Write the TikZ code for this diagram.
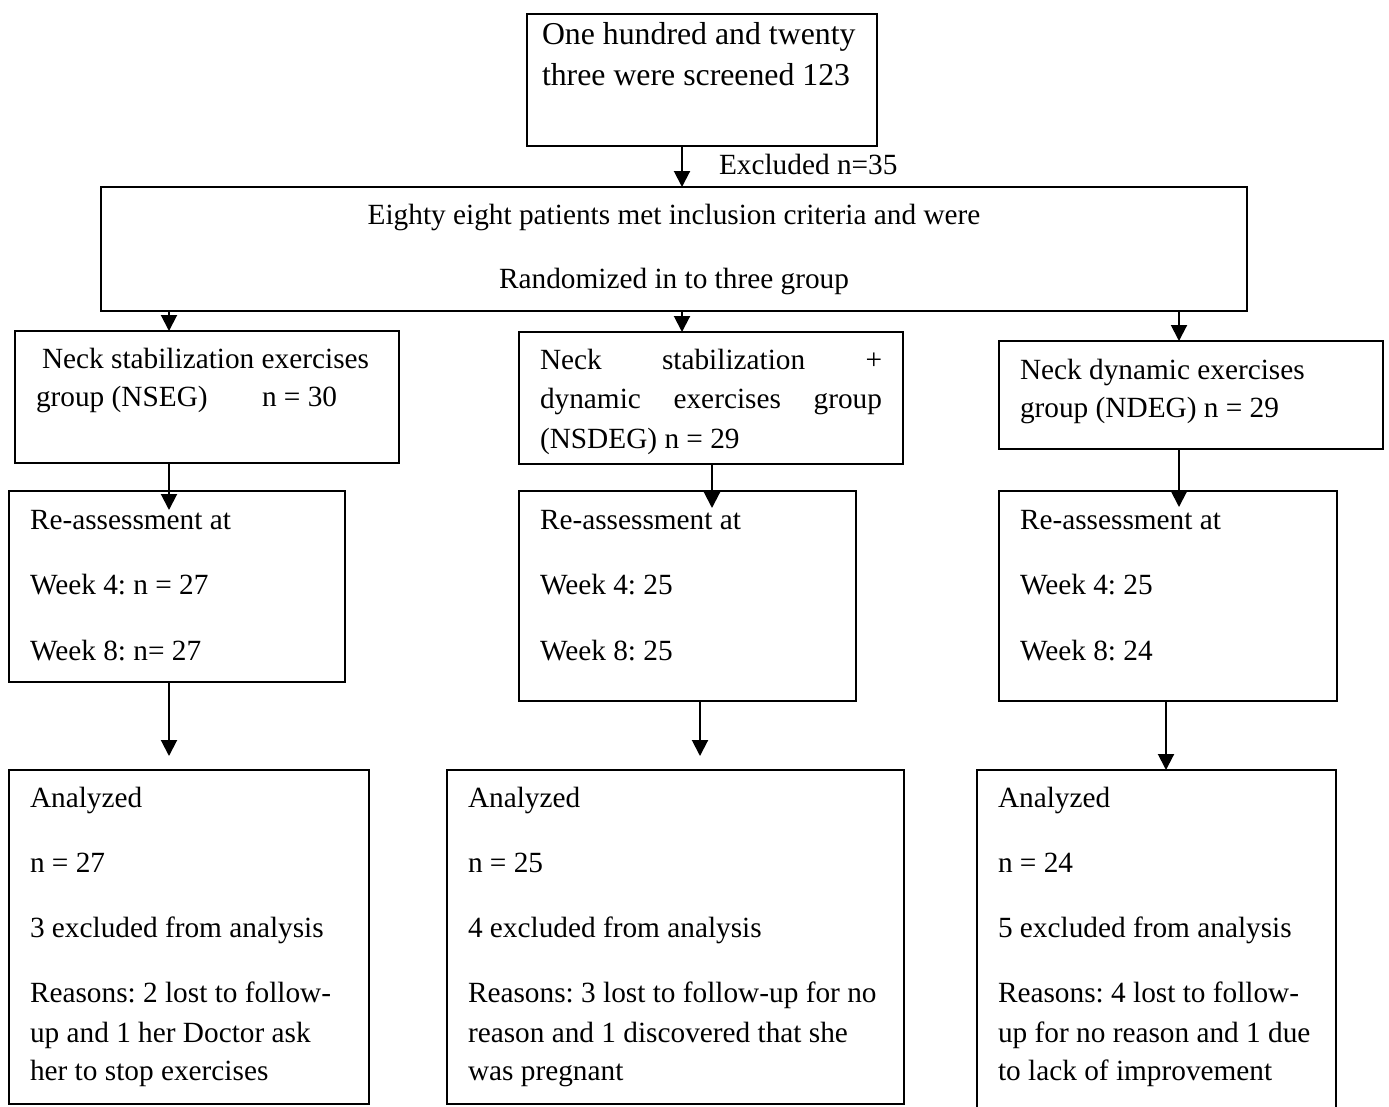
\documentclass[tikz,border=0pt]{standalone}
\usepackage{fontspec}
\setmainfont{Liberation Serif}
\usetikzlibrary{arrows.meta}
\frenchspacing
\begin{document}
\begin{tikzpicture}[x=1pt,y=-1pt,
  box/.style={draw=black,line width=1.8pt,anchor=north west,inner sep=0pt,outer sep=0pt},
  txt/.style={anchor=base west,inner sep=0pt,outer sep=0pt,font=\fontsize{29.3}{35}\selectfont\frenchspacing},
  bigtxt/.style={txt,font=\fontsize{31.8}{38}\selectfont\frenchspacing},
  ctxt/.style={anchor=base,inner sep=0pt,outer sep=0pt,font=\fontsize{29.3}{35}\selectfont\frenchspacing},
  arr/.style={line width=2pt,-{Triangle[length=16pt,width=16pt]}}]
\useasboundingbox[fill=white] (0,0) rectangle (1389,1106);
% boxes
\node[box,minimum width=350pt,minimum height=132pt] (top) at (527,14) {};
\node[box,minimum width=1146pt,minimum height=124pt] (big) at (101,187) {};
\node[box,minimum width=384pt,minimum height=132pt] (nseg) at (15,331) {};
\node[box,minimum width=384pt,minimum height=132pt] (nsdeg) at (519,332) {};
\node[box,minimum width=384pt,minimum height=108pt] (ndeg) at (999,341) {};
\node[box,minimum width=336pt,minimum height=191pt] (reA) at (9,491) {};
\node[box,minimum width=337pt,minimum height=210pt] (reB) at (519,491) {};
\node[box,minimum width=338pt,minimum height=210pt] (reC) at (999,491) {};
\node[box,minimum width=360pt,minimum height=334pt] (anA) at (9,770) {};
\node[box,minimum width=457pt,minimum height=334pt] (anB) at (447,770) {};
\node[box,draw=none,minimum width=359pt,minimum height=340pt] (anC) at (977,770) {};
\draw[line width=1.8pt] (anC.south west) -- (anC.north west) -- (anC.north east) -- (anC.south east);
% texts
\node[bigtxt] (t1) at (542,44) {One hundred and twenty};
\node[bigtxt] (t2) at (542,85) {three were screened 123};
\node[txt] (ex) at (719,174) {Excluded n=35};
\node[ctxt] (b1) at (674,224) {Eighty eight patients met inclusion criteria and were};
\node[ctxt] (b2) at (674,288) {Randomized in to three group};
\node[txt] (g1a) at (42,368) {Neck stabilization exercises};
\node[txt] (g1b) at (36,406) {group (NSEG)};
\node[txt] (g1c) at (262,406) {n = 30};
\node[txt] (g2a) at (540,369) {\makebox[342pt][s]{Neck\hfill stabilization\hfill +}};
\node[txt] (g2b) at (540,408) {\makebox[342pt][s]{dynamic\hfill exercises\hfill group}};
\node[txt] (g2c) at (540,448) {(NSDEG) n = 29};
\node[txt] (g3a) at (1020,379) {Neck dynamic exercises};
\node[txt] (g3b) at (1020,417) {group (NDEG) n = 29};
\node[txt] (rA1) at (30,529) {Re-assessment at};
\node[txt] (rA2) at (30,594) {Week 4: n = 27};
\node[txt] (rA3) at (30,660) {Week 8: n= 27};
\node[txt] (rB1) at (540,529) {Re-assessment at};
\node[txt] (rB2) at (540,594) {Week 4: 25};
\node[txt] (rB3) at (540,660) {Week 8: 25};
\node[txt] (rC1) at (1020,529) {Re-assessment at};
\node[txt] (rC2) at (1020,594) {Week 4: 25};
\node[txt] (rC3) at (1020,660) {Week 8: 24};
\node[txt] (aA1) at (30,807) {Analyzed};
\node[txt] (aA2) at (30,872) {n = 27};
\node[txt] (aA3) at (30,937) {3 excluded from analysis};
\node[txt] (aA4) at (30,1002) {Reasons: 2 lost to follow-};
\node[txt] (aA5) at (30,1042) {up and 1 her Doctor ask};
\node[txt] (aA6) at (30,1080) {her to stop exercises};
\node[txt] (aB1) at (468,807) {Analyzed};
\node[txt] (aB2) at (468,872) {n = 25};
\node[txt] (aB3) at (468,937) {4 excluded from analysis};
\node[txt] (aB4) at (468,1002) {Reasons: 3 lost to follow-up for no};
\node[txt] (aB5) at (468,1042) {reason and 1 discovered that she};
\node[txt] (aB6) at (468,1080) {was pregnant};
\node[txt] (aC1) at (998,807) {Analyzed};
\node[txt] (aC2) at (998,872) {n = 24};
\node[txt] (aC3) at (998,937) {5 excluded from analysis};
\node[txt] (aC4) at (998,1002) {Reasons: 4 lost to follow-};
\node[txt] (aC5) at (998,1042) {up for no reason and 1 due};
\node[txt] (aC6) at (998,1080) {to lack of improvement};
% arrows
\coordinate (xA) at (169,0);
\coordinate (xT) at (682,0);
\coordinate (xN) at (712,0);
\coordinate (xR) at (1179,0);
\coordinate (xM) at (700,0);
\coordinate (xS) at (1166,0);
\draw[arr] (top.south -| xT) -- (big.north -| xT);
\draw[arr] (big.south -| xA) -- (nseg.north -| xA);
\draw[arr] (big.south -| xT) -- (nsdeg.north -| xT);
\draw[arr] (big.south -| xR) -- (ndeg.north -| xR);
\draw[arr] (nseg.south -| xA) -- ([yshift=-19pt]reA.north -| xA);
\draw[arr] (nsdeg.south -| xN) -- ([yshift=-17pt]reB.north -| xN);
\draw[arr] (ndeg.south -| xR) -- ([yshift=-16pt]reC.north -| xR);
\draw[arr] (reA.south -| xA) -- ([yshift=14pt]anA.north -| xA);
\draw[arr] (reB.south -| xM) -- ([yshift=14pt]anB.north -| xM);
\draw[arr] (reC.south -| xS) -- (anC.north -| xS);
\end{tikzpicture}
\end{document}
